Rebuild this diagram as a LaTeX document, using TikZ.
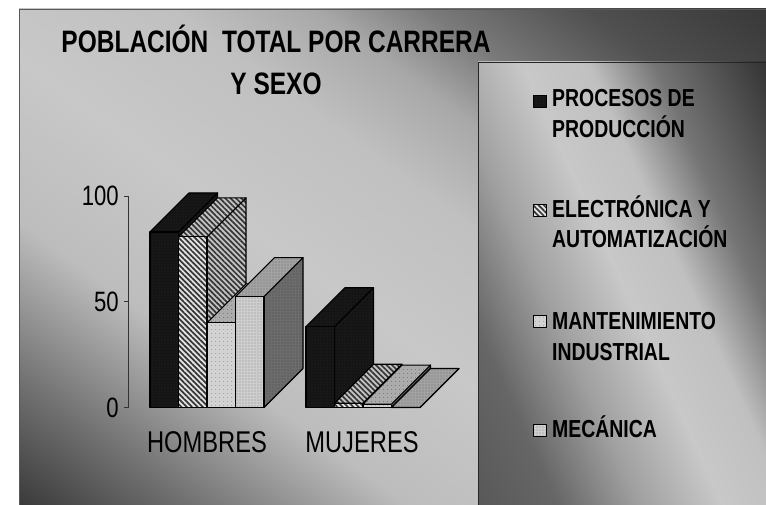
\documentclass[tikz,border=0pt]{standalone}
\usepackage{fontspec}
\setmainfont{Liberation Sans}[FakeStretch=0.79]
\usepackage{tikz}
\usetikzlibrary{patterns.meta}

\definecolor{procF}{HTML}{141414}
\definecolor{procD}{HTML}{272727}
\definecolor{elecF}{HTML}{E4E4E4}
\definecolor{elecT}{HTML}{C4C4C4}
\definecolor{elecS}{HTML}{363636}
\definecolor{mantF}{HTML}{D2D2D2}
\definecolor{mantT}{HTML}{ABABAB}
\definecolor{mantD}{HTML}{969696}
\definecolor{mecF}{HTML}{CECECE}
\definecolor{mecT}{HTML}{A2A2A2}
\definecolor{mecS}{HTML}{6C6C6C}

\pgfdeclareverticalshading{panelshade}{100bp}{gray(0bp)=(0.21); gray(25bp)=(0.21); gray(26.67bp)=(0.227); gray(32.2bp)=(0.439); gray(39.4bp)=(0.741); gray(46.7bp)=(0.784); gray(53.9bp)=(0.753); gray(58.6bp)=(0.659); gray(62.3bp)=(0.478); gray(67.4bp)=(0.314); gray(72.9bp)=(0.227); gray(100bp)=(0.21)}
\pgfdeclareverticalshading{legendshade}{100bp}{gray(0bp)=(0.333); gray(25bp)=(0.333); gray(31.4bp)=(0.345); gray(37.5bp)=(0.4); gray(43.75bp)=(0.627); gray(50bp)=(0.784); gray(55bp)=(0.753); gray(60bp)=(0.459); gray(68.6bp)=(0.2); gray(75bp)=(0.18); gray(100bp)=(0.18)}

\begin{document}
\begin{tikzpicture}[x=1pt,y=-1pt,
  every node/.style={inner sep=0pt},
  titletext/.style={anchor=base,align=center,font=\fontsize{31}{42}\selectfont\bfseries},
  legtext/.style={anchor=base west,align=left,font=\fontsize{24.6}{31}\selectfont\bfseries},
  cattext/.style={anchor=base,font=\fontsize{30}{36}\selectfont},
  numtext/.style={anchor=east,font=\fontsize{28}{34}\selectfont},
  key/.style={anchor=south west,minimum width=13pt,minimum height=12pt},
  face/.style={draw=black,line width=1.1pt,line join=round},
  proc-front/.style={face,preaction={fill=procF},pattern={Dots[distance=3pt,radius=0.6pt]},pattern color=procD},
  proc-top/.style={proc-front},
  proc-side/.style={proc-front},
  elec-front/.style={face,preaction={fill=elecF},pattern={Lines[angle=-45,distance=3.8pt,line width=1.7pt]},pattern color=elecS},
  elec-top/.style={face,preaction={fill=elecT},pattern={Lines[angle=-45,distance=3.8pt,line width=1.7pt]},pattern color=elecS},
  elec-side/.style={elec-top},
  mant-front/.style={face,preaction={fill=mantF},pattern={Dots[distance=4pt,radius=0.6pt]},pattern color=mantD},
  mant-top/.style={face,preaction={fill=mantT},pattern={Dots[distance=4pt,radius=0.6pt]},pattern color=mantD!70!black},
  mant-side/.style={face,preaction={fill=mecS},pattern={Dots[distance=4pt,radius=0.6pt]},pattern color=mecS!70!black},
  mec-front/.style={face,preaction={fill=mecF},pattern={Dots[distance=3pt,radius=0.8pt]},pattern color=mecF!85!black},
  mec-top/.style={face,preaction={fill=mecT},pattern={Dots[distance=3pt,radius=0.8pt]},pattern color=mecT!85!black},
  mec-side/.style={face,preaction={fill=mecS},pattern={Dots[distance=3pt,radius=0.8pt]},pattern color=mecS!85!black}]

\useasboundingbox (0,0) rectangle (766,505);

% background panel
\begin{scope}
  \clip (19,9) rectangle (766,505);
  \begin{scope}[transform canvas={rotate around={-36:(392.5,257)}}]
    \shade[shading=panelshade] (-57.5,-193) rectangle (842.5,707);
  \end{scope}
\end{scope}
\draw[black!65,line width=0.8pt] (766,9) -- (19,9) -- (19,505);

% legend box
\begin{scope}
  \clip (478,62) rectangle (766,505);
  \begin{scope}[transform canvas={rotate around={-65.6:(622,284)}}]
    \shade[shading=legendshade] (322,-16) rectangle (922,584);
  \end{scope}
\end{scope}
\draw[black!85,line width=0.9pt] (766,62) -- (478,62) -- (478,505);

\node[titletext] (title) at (276,95) {POBLACIÓN\ \ TOTAL POR CARRERA\\Y SEXO};

% value axis
\draw[black!80,line width=0.8pt] (128,196) -- (128,407.5);
\foreach \v/\yy in {0/407.5,50/301.75,100/196}{
  \draw[black!80,line width=0.8pt] (124,\yy) -- (128,\yy);
  \node[numtext] (num\v) at (119,\yy) {\v};
}

% bars
\foreach \xo/\val/\kind in {150/83/proc,178.5/80.7/elec,207/40/mant,235.5/52.4/mec,
    306/38.2/proc,334.5/2/elec,363/1.6/mant,391.5/0/mec}{
  \pgfmathsetmacro{\yt}{407.5-2.115*\val}
  \draw[\kind-side] (\xo+28.5,407.5) -- (\xo+67.5,368.5) -- (\xo+67.5,\yt-39) -- (\xo+28.5,\yt) -- cycle;
  \draw[\kind-top] (\xo,\yt) -- (\xo+28.5,\yt) -- (\xo+67.5,\yt-39) -- (\xo+39,\yt-39) -- cycle;
  \draw[\kind-front] (\xo,407.5) rectangle (\xo+28.5,\yt);
}

\node[cattext] (hombres) at (207,452) {HOMBRES};
\node[cattext] (mujeres) at (362,452) {MUJERES};

% legend
\node[key,proc-front] (key1) at (533,108) {};
\node[key,elec-front] (key2) at (533,217) {};
\node[key,mant-front] (key3) at (533,328) {};
\node[key,mec-front] (key4) at (533,437) {};
\node[legtext] (leg1) at (552,138) {PROCESOS DE\\PRODUCCIÓN};
\node[legtext] (leg2) at (552,248) {ELECTRÓNICA Y\\AUTOMATIZACIÓN};
\node[legtext] (leg3) at (552,360) {MANTENIMIENTO\\INDUSTRIAL};
\node[legtext] (leg4) at (552,437) {MECÁNICA};
\end{tikzpicture}
\end{document}
